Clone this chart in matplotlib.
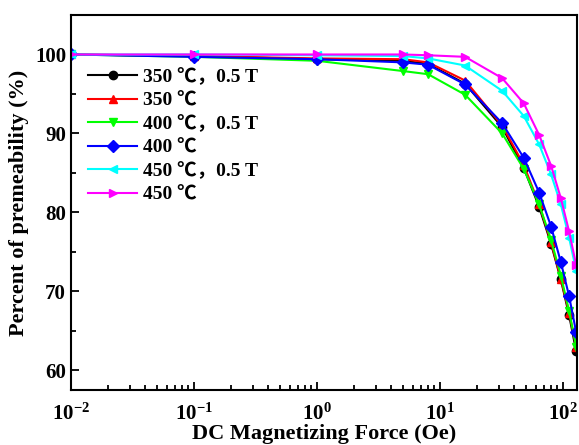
import numpy as np
import matplotlib
matplotlib.use("Agg")
from matplotlib import pyplot as plt
from matplotlib.ticker import MultipleLocator, LogLocator, NullFormatter

plt.rcParams['font.family'] = ['Liberation Serif', 'Noto Sans CJK SC', 'DejaVu Sans']
plt.rcParams['font.weight'] = 'bold'
plt.rcParams['mathtext.default'] = 'bf'

field = [0.01, 0.1, 1, 5, 8, 16, 32, 48, 64, 80, 96, 112, 128]
labels = ["350 ℃，0.5 T", "350 ℃", "400 ℃，0.5 T", "400 ℃", "450 ℃，0.5 T", "450 ℃"]
perm_350_05 = [100, 99.8, 99.4, 99.2, 98.8, 96.3, 90.8, 85.6, 80.7, 76.0, 71.5, 67.0, 62.4]
perm_350 = [100, 99.8, 99.5, 99.4, 99.0, 96.7, 91.0, 86.0, 81.0, 76.2, 71.6, 67.3, 63.0]
perm_400_05 = [100, 99.7, 99.2, 97.9, 97.5, 94.9, 90.0, 85.5, 81.0, 76.5, 72.0, 67.5, 63.0]
perm_400 = [100, 99.7, 99.4, 99.0, 98.7, 96.2, 91.3, 86.9, 82.5, 78.2, 73.7, 69.4, 64.8]
perm_450_05 = [100, 100, 99.9, 99.8, 99.5, 98.6, 95.4, 92.2, 88.6, 84.8, 81.0, 76.8, 72.6]
perm_450 = [100, 100, 100, 100, 99.9, 99.7, 97.0, 93.8, 89.8, 85.9, 81.8, 77.6, 73.3]

series = [perm_350_05, perm_350, perm_400_05, perm_400, perm_450_05, perm_450]
colors = ['black', 'red', '#00ff00', '#0000ff', '#00ffff', '#ff00ff']
markers = ['o', '^', 'v', 'D', '<', '>']

fig = plt.figure(figsize=(5.79, 4.45), dpi=100)
ax = fig.add_axes([0.1226, 0.1236, 0.874, 0.8427])

for y, c, m, lab in zip(series, colors, markers, labels):
    ax.plot(field, y, color=c, marker=m, markersize=6, lw=1.5, label=lab)

ax.set_xscale('log')
ax.set_xlim(0.01, 130)
ax.set_ylim(57.5, 105)
ax.yaxis.set_major_locator(MultipleLocator(10))
ax.yaxis.set_minor_locator(MultipleLocator(5))
ax.xaxis.set_minor_locator(LogLocator(base=10, subs=np.arange(2, 10)))
ax.xaxis.set_minor_formatter(NullFormatter())
ax.tick_params(which='both', direction='in', top=False, right=False, width=1.3)
ax.tick_params(which='major', length=6, labelsize=15)
ax.tick_params(which='minor', length=3.5)
ax.tick_params(axis='x', which='major', pad=10)
for s in ax.spines.values():
    s.set_linewidth(1.5)

ax.set_xlabel('DC Magnetizing Force (Oe)', fontsize=16, fontweight='bold', labelpad=-1)
ax.set_ylabel('Percent of premeability (%)', fontsize=16, fontweight='bold', labelpad=4)

ax.legend(loc='upper left', bbox_to_anchor=(0.0, 0.905), frameon=False,
          prop={'size': 14, 'weight': 'bold'}, handlelength=2.5, labelspacing=0.3,
          handletextpad=0.3)

fig.savefig('out.png', dpi=100)
